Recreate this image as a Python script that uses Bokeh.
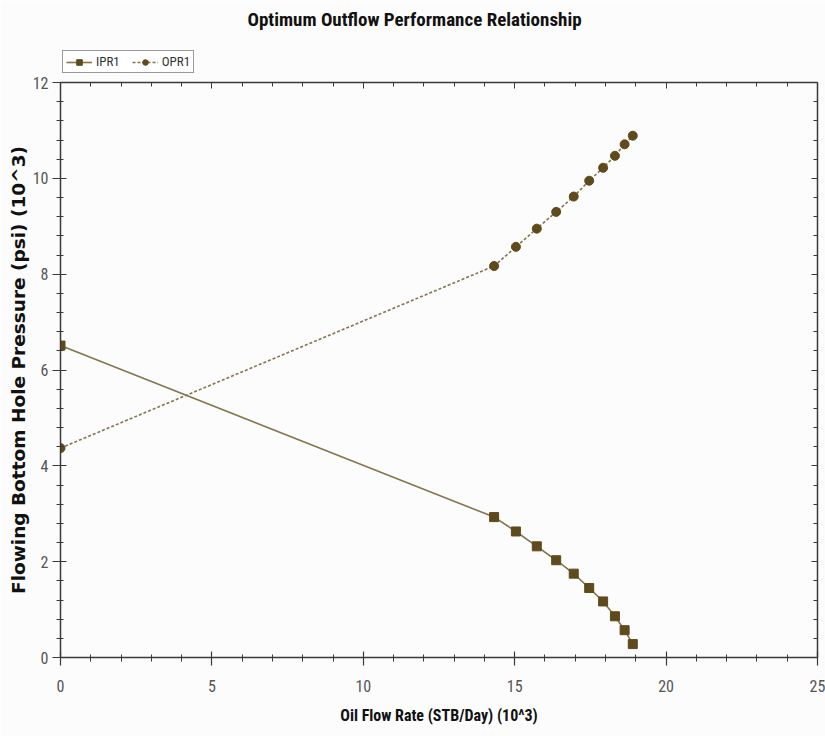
from bokeh.plotting import figure
from bokeh.layouts import column
from bokeh.models import (Range1d, LinearAxis, SingleIntervalTicker, Legend,
                          LegendItem, ColumnDataSource)
from bokeh.embed import file_html
from bokeh.resources import INLINE

# Oil flow rate (10^3 STB/day) and flowing bottom hole pressure (10^3 psi)
rate = [0.0, 14.32, 15.04, 15.73, 16.37, 16.95, 17.46, 17.92, 18.31, 18.63, 18.90]
ipr1 = [6.51, 2.93, 2.63, 2.32, 2.03, 1.75, 1.45, 1.17, 0.86, 0.57, 0.28]
opr1 = [4.37, 8.17, 8.57, 8.95, 9.30, 9.62, 9.95, 10.22, 10.47, 10.71, 10.89]

NARROW = "'Liberation Sans Narrow', 'Arial Narrow', 'Roboto Condensed', sans-serif"
AXIS_COLOR = "#3a3a3a"
MARK = "#5e4a1c"
LINE = "#84754c"
BG = "#fcfcfc"

src = ColumnDataSource(dict(rate=rate, ipr=ipr1, opr=opr1))


def add_series(fig):
    """Draw both curves on a figure; returns the renderers for the legend."""
    il = fig.line("rate", "ipr", source=src, line_color=LINE, line_width=1.6)
    ip = fig.scatter("rate", "ipr", source=src, marker="square", size=9,
                     fill_color=MARK, line_color=MARK)
    ol = fig.line("rate", "opr", source=src, line_color=LINE, line_width=1.6,
                  line_dash="3 2")
    op = fig.scatter("rate", "opr", source=src, marker="circle", size=9,
                     fill_color=MARK, line_color=MARK)
    return il, ip, ol, op


# ---- header strip: title and legend (frame aligned with the chart below) ----
header = figure(width=825, height=74, output_backend="svg", toolbar_location=None,
                x_range=Range1d(-2, -1), y_range=Range1d(-2, -1),
                x_axis_location=None, y_axis_location=None,
                min_border=0, background_fill_color=BG, border_fill_color=BG,
                outline_line_color=None)
header.grid.visible = False
header.title.text = "Optimum Outflow Performance Relationship"
header.title.align = "left"
header.title.offset = 187
header.title.text_font = NARROW
header.title.text_font_size = "19px"
header.title.text_font_style = "bold"
header.title.text_color = "#111111"

hil, hip, hol, hop = add_series(header)
legend = Legend(items=[LegendItem(label="IPR1", renderers=[hil, hip]),
                       LegendItem(label="OPR1", renderers=[hol, hop])],
                location=(2, 1), orientation="horizontal",
                label_text_font=NARROW, label_text_font_size="13px",
                label_text_color="#333333", glyph_width=26, glyph_height=14,
                label_standoff=4, spacing=12, padding=3, margin=0,
                border_line_color="#333333", border_line_width=1,
                background_fill_color="#ffffff", background_fill_alpha=1)
header.add_layout(legend)

# ---- main chart ----
p = figure(width=825, height=662, output_backend="svg", toolbar_location=None,
           x_range=Range1d(0, 25), y_range=Range1d(0, 12),
           min_border_left=60, min_border_right=8, min_border_top=8,
           min_border_bottom=79, background_fill_color=BG,
           border_fill_color=BG, outline_line_color=None)
p.xgrid.visible = False
p.ygrid.visible = False

for ax in (p.xaxis[0], p.yaxis[0]):
    ax.axis_line_color = AXIS_COLOR
    ax.axis_line_width = 1.5
    ax.major_tick_line_color = AXIS_COLOR
    ax.minor_tick_line_color = AXIS_COLOR
    ax.major_tick_line_width = 1.2
    ax.minor_tick_line_width = 1.0
    ax.major_tick_in = 6
    ax.major_tick_out = 8
    ax.minor_tick_in = 3
    ax.minor_tick_out = 4
    ax.major_label_text_font = NARROW
    ax.major_label_text_font_size = "16px"
    ax.major_label_text_color = "#555555"

p.xaxis[0].ticker = SingleIntervalTicker(interval=5, num_minor_ticks=5)
p.yaxis[0].ticker = SingleIntervalTicker(interval=2, num_minor_ticks=5)
p.xaxis.major_label_standoff = 14
p.yaxis.major_label_standoff = 4

p.xaxis.axis_label = "Oil Flow Rate (STB/Day) (10^3)"
p.xaxis.axis_label_text_font = NARROW
p.xaxis.axis_label_text_font_size = "16px"
p.xaxis.axis_label_text_font_style = "bold"
p.xaxis.axis_label_text_color = "#111111"
p.xaxis.axis_label_standoff = 11

p.yaxis.axis_label = "Flowing Bottom Hole Pressure (psi) (10^3)"
p.yaxis.axis_label_text_font = "DejaVu Sans"
p.yaxis.axis_label_text_font_size = "18.5px"
p.yaxis.axis_label_text_font_style = "bold"
p.yaxis.axis_label_text_color = "#111111"
p.yaxis.axis_label_standoff = 1

# Frame edges on top and right: inward ticks, no labels
top = LinearAxis(ticker=SingleIntervalTicker(interval=5, num_minor_ticks=5))
right = LinearAxis(ticker=SingleIntervalTicker(interval=2, num_minor_ticks=5))
for ax in (top, right):
    ax.axis_line_color = AXIS_COLOR
    ax.axis_line_width = 1.5
    ax.major_tick_line_color = AXIS_COLOR
    ax.minor_tick_line_color = AXIS_COLOR
    ax.major_tick_in = 6
    ax.major_tick_out = 0
    ax.minor_tick_in = 4
    ax.minor_tick_out = 0
    ax.major_label_text_font_size = "1px"
    ax.major_label_text_color = None
    ax.major_label_standoff = 0
p.add_layout(top, "above")
p.add_layout(right, "right")

add_series(p)

layout = column(header, p, spacing=0)
open("out.html", "w").write(file_html(layout, INLINE))
